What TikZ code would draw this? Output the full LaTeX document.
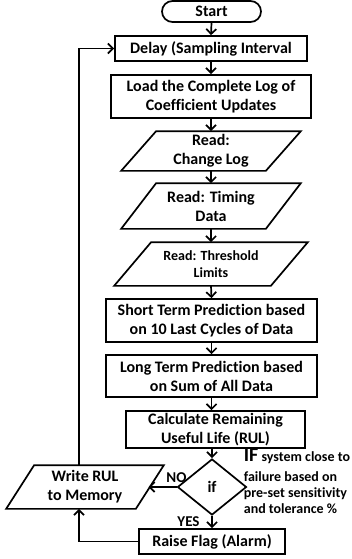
\documentclass[tikz,border=0pt]{standalone}
\usepackage{fontspec}
\setmainfont{Carlito}[Ligatures=NoCommon]
\usetikzlibrary{arrows.meta,shapes.geometric,calc}

\begin{document}
\begin{tikzpicture}[x=1pt,y=-1pt,line width=1.7pt,
  font=\bfseries\fontsize{16}{19}\selectfont,
  box/.style={draw,rectangle,inner sep=0pt,align=center},
  para/.style={rectangle,inner sep=0pt,align=center},
  arr/.style={-{Straight Barb[length=5pt,width=10pt]},line width=1.7pt}]
\useasboundingbox (0,0) rectangle (352,559);

% main column
\node[box,rounded corners=10.5pt,minimum width=99pt,minimum height=21pt] (start) at (211.5,11.5) {Start};
\node[box,minimum width=192pt,minimum height=25pt] (delay) at (211,48.5) {Delay (Sampling Interval};
\node[box,minimum width=200pt,minimum height=43pt] (load) at (211,96.5) {Load the Complete Log of\\Coefficient Updates};
\node[para,minimum width=178pt,minimum height=38pt] (cl) at (211,151) {Read:\\Change Log};
\node[para,minimum width=178pt,minimum height=44pt] (td) at (211,206) {Read: Timing\\Data};
\node[para,minimum width=192pt,minimum height=42pt,font=\bfseries\fontsize{14}{17}\selectfont] (th) at (211,264) {Read: Threshold\\Limits};
\node[box,minimum width=211pt,minimum height=43pt] (short) at (211.5,320.5) {Short Term Prediction based\\on 10 Last Cycles of Data};
\node[box,minimum width=211pt,minimum height=42pt] (long) at (211.5,376) {Long Term Prediction based\\on Sum of All Data};
\node[box,minimum width=179pt,minimum height=37pt] (rul) at (215.5,429.5) {Calculate Remaining\\Useful Life (RUL)};
\node[draw,diamond,inner sep=0pt,minimum width=69pt,minimum height=56pt] (if) at (212,487) {if};
\node[box,minimum width=146pt,minimum height=25pt] (flag) at (212,541.5) {Raise Flag (Alarm)};
\node[para,minimum width=156pt,minimum height=42pt] (wr) at (85,487) {Write RUL\\to Memory};

% parallelogram outlines of the input/output steps
\foreach \n/\s in {cl/35,td/35,th/37,wr/28}
  \draw ([xshift=\s]\n.north west) -- (\n.north east) -- ([xshift=-\s]\n.south east) -- (\n.south west) -- cycle;

% branch labels and condition note
\node[font=\bfseries\fontsize{15}{17}\selectfont,inner sep=0pt] (no) at (176.5,478) {NO};
\node[font=\bfseries\fontsize{15}{17}\selectfont,inner sep=0pt] (yes) at (188.5,521.5) {YES};
\node[anchor=north west,inner sep=0pt,align=left,font=\bfseries\fontsize{14}{16}\selectfont] (note) at (243,448)
  {{\fontsize{20}{16}\selectfont IF} system close to\\[4pt]failure based on\\pre-set sensitivity\\and tolerance \%};

% connectors
\coordinate (loopx) at (79,0);
\coordinate (wrR) at (148.5,487);
\draw[arr] (start.south) -- (delay.north);
\draw[arr] (delay.south) -- (load.north);
\draw[arr] (load.south) -- (cl.north);
\draw[arr] (cl.south) -- (td.north);
\draw[arr] (td.south) -- (th.north);
\draw[arr] (th.south) -- (short.north);
\draw[arr] (short.south) -- (long.north);
\draw[arr] (long.south) -- (long.south |- rul.north);
\draw[arr] (rul.south -| if.north) -- (if.north);
\draw[arr] (if.south) -- (flag.north);
\draw[arr] (if.west) -- (wrR);
\draw[arr] (flag.west) -- (flag.west -| loopx) -- (loopx |- wr.south);
\draw[arr] (loopx |- wr.north) -- (loopx |- delay.west) -- (delay.west);
\end{tikzpicture}
\end{document}
